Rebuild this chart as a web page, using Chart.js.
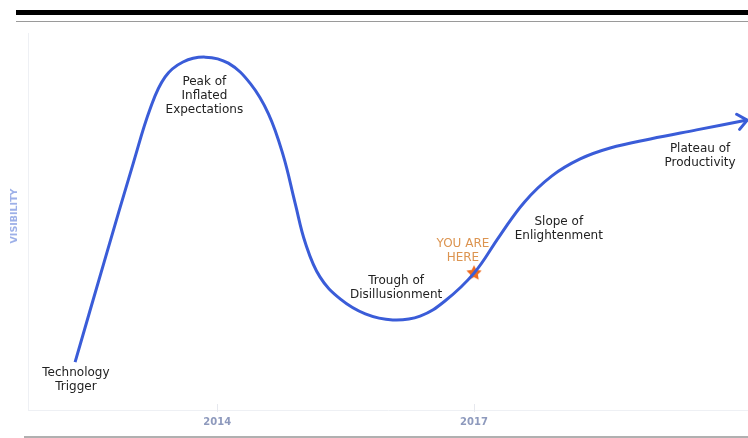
<!DOCTYPE html>
<html>
<head>
<meta charset="utf-8">
<script src="https://cdn.jsdelivr.net/npm/chart.js@4"></script>
<style>
  html, body { margin: 0; padding: 0; background: #fff; }
  body { width: 748px; height: 438px; position: relative; overflow: hidden; }
  .bar-top { position: absolute; left: 16px; right: 0; top: 10px; height: 5px; background: #000; }
  .rule-top { position: absolute; left: 16px; right: 0; top: 21px; height: 1px; background: #9a9a9a; }
  .rule-bottom { position: absolute; left: 24px; right: 0; top: 436px; height: 2px; background: #b0b0b0; }
  #wrap { position: absolute; left: 0; top: 0; width: 748px; height: 438px; }
</style>
</head>
<body>
<div class="bar-top"></div>
<div class="rule-top"></div>
<div id="wrap"><canvas id="hype"></canvas></div>
<div class="rule-bottom"></div>
<script>
// hype cycle curve (x = year, y = visibility 0-100)
const curveYears = [2012.34, 2012.68, 2013.02, 2013.22, 2013.39, 2013.60, 2013.86, 2014.13, 2014.39,
    2014.60, 2014.77, 2014.91, 2015.03, 2015.20, 2015.44, 2015.73, 2016.05, 2016.37, 2016.66,
    2017.00, 2017.30, 2017.59, 2017.91, 2018.24, 2018.59, 2019.06, 2019.60, 2020.19];
const curveVisibility = [12.7, 39.3, 65.5, 80.1, 88.3, 92.3, 93.6, 92.0, 86.5,
    78.5, 67.6, 54.9, 44.3, 35.3, 29.4, 25.5, 23.9, 24.9, 28.9,
    36.3, 46.2, 55.2, 62.1, 66.6, 69.5, 71.9, 74.3, 76.9];
const tickYears = [2014, 2017];
const youAreHere = { x: 2017.00, y: 36.3 };

// phase labels
const phaseLabels = [
    { x: 2012.35, y: 8.0, lines: ['Technology', 'Trigger'], color: '#222' },
    { x: 2013.85, y: 83.3, lines: ['Peak of', 'Inflated', 'Expectations'], color: '#222' },
    { x: 2016.09, y: 32.4, lines: ['Trough of', 'Disillusionment'], color: '#222' },
    { x: 2016.87, y: 42.2, lines: ['YOU ARE', 'HERE'], color: '#dc9450' },
    { x: 2017.99, y: 48.0, lines: ['Slope of', 'Enlightenment'], color: '#222' },
    { x: 2019.64, y: 67.4, lines: ['Plateau of', 'Productivity'], color: '#222' }
];

const blue = '#3a5cd8';
const labelFont = '12px "DejaVu Sans", sans-serif';

// filled five point star for the "you are here" marker
function makeStar(r, color) {
    const c = document.createElement('canvas');
    c.width = c.height = r * 2 + 2;
    const g = c.getContext('2d');
    g.fillStyle = color;
    g.beginPath();
    for (let i = 0; i < 10; i++) {
        const rad = i % 2 === 0 ? r : r * 0.5;
        const a = -Math.PI / 2 + i * Math.PI / 5;
        const px = r + 1 + rad * Math.cos(a), py = r + 1 + rad * Math.sin(a);
        i === 0 ? g.moveTo(px, py) : g.lineTo(px, py);
    }
    g.closePath();
    g.fill();
    return c;
}

const decorations = {
    id: 'decorations',
    beforeDatasetsDraw(chart) {
        const { ctx, chartArea } = chart;
        // faint left frame line
        ctx.save();
        ctx.strokeStyle = '#eef0f4';
        ctx.lineWidth = 1;
        ctx.beginPath();
        ctx.moveTo(chartArea.left + 0.5, chartArea.top);
        ctx.lineTo(chartArea.left + 0.5, chartArea.bottom);
        ctx.stroke();
        ctx.restore();
    },
    afterDatasetsDraw(chart) {
        const { ctx, chartArea, scales: { x, y } } = chart;
        ctx.save();

        // short tick marks sitting on the axis
        ctx.strokeStyle = '#e6e8ee';
        ctx.lineWidth = 1;
        tickYears.forEach(v => {
            const px = Math.round(x.getPixelForValue(v)) + 0.5;
            ctx.beginPath();
            ctx.moveTo(px, chartArea.bottom - 6);
            ctx.lineTo(px, chartArea.bottom + 2);
            ctx.stroke();
        });

        // arrow head at the end of the curve
        const n = curveYears.length;
        const x1 = x.getPixelForValue(curveYears[n - 2]), y1 = y.getPixelForValue(curveVisibility[n - 2]);
        const x2 = x.getPixelForValue(curveYears[n - 1]), y2 = y.getPixelForValue(curveVisibility[n - 1]);
        const ang = Math.atan2(y2 - y1, x2 - x1);
        const len = 12, spread = 0.7;
        ctx.strokeStyle = blue;
        ctx.lineWidth = 3;
        ctx.lineCap = 'round';
        ctx.lineJoin = 'round';
        ctx.beginPath();
        ctx.moveTo(x2 - len * Math.cos(ang - spread), y2 - len * Math.sin(ang - spread));
        ctx.lineTo(x2, y2);
        ctx.lineTo(x2 - len * Math.cos(ang + spread), y2 - len * Math.sin(ang + spread));
        ctx.stroke();

        // phase labels
        ctx.font = labelFont;
        ctx.textAlign = 'center';
        ctx.textBaseline = 'middle';
        const lh = 14;
        phaseLabels.forEach(l => {
            const cx = x.getPixelForValue(l.x);
            const cy = y.getPixelForValue(l.y);
            ctx.fillStyle = l.color;
            l.lines.forEach((t, i) => {
                ctx.fillText(t, cx, cy + (i - (l.lines.length - 1) / 2) * lh);
            });
        });

        // y axis title
        ctx.translate(15, 216);
        ctx.rotate(-Math.PI / 2);
        ctx.font = 'bold 9.5px "DejaVu Sans", sans-serif';
        ctx.fillStyle = '#9db0e8';
        ctx.fillText('VISIBILITY', 0, 0);
        ctx.restore();
    }
};

new Chart(document.getElementById('hype'), {
    type: 'scatter',
    data: {
        datasets: [{
            data: curveYears.map((v, i) => ({ x: v, y: curveVisibility[i] })),
            showLine: true,
            borderColor: blue,
            borderWidth: 3,
            pointRadius: 0,
            tension: 0.4,
            clip: false
        }, {
            data: [youAreHere],
            pointStyle: makeStar(8, '#ef6a1e'),
            pointRadius: 8,
            clip: false
        }]
    },
    options: {
        responsive: true,
        maintainAspectRatio: false,
        animation: false,
        layout: { autoPadding: false, padding: { left: 28, top: 33, right: 0, bottom: 4 } },
        plugins: { legend: { display: false }, tooltip: { enabled: false } },
        scales: {
            x: {
                type: 'linear',
                min: 2011.79,
                max: 2020.2,
                afterBuildTicks: axis => { axis.ticks = tickYears.map(v => ({ value: v })); },
                grid: { display: false, drawTicks: false },
                border: { display: true, color: '#eef0f4' },
                ticks: {
                    padding: 6,
                    color: '#8e9abd',
                    font: { family: '"DejaVu Sans", sans-serif', size: 10, weight: 'bold' },
                    callback: v => String(v)
                }
            },
            y: {
                min: 0,
                max: 100,
                display: false
            }
        }
    },
    plugins: [decorations]
});
</script>
</body>
</html>
